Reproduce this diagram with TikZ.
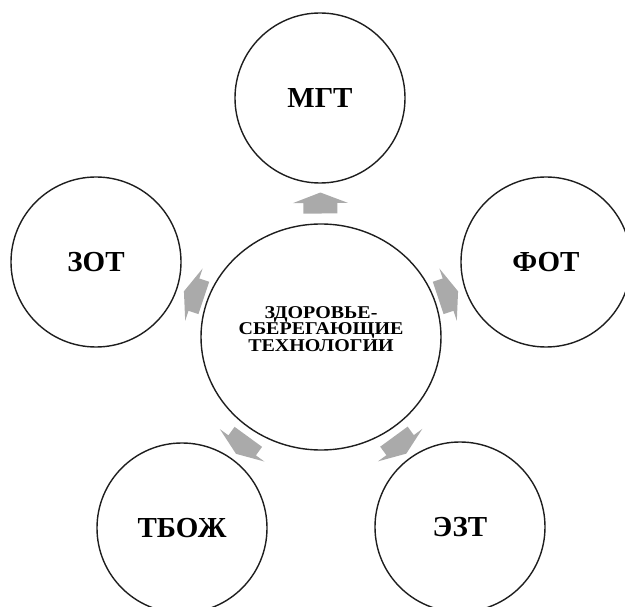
\documentclass[tikz,border=0pt]{standalone}
\usepackage{fontspec}
\setmainfont{Liberation Serif}
\usetikzlibrary{calc,shapes.geometric}
\definecolor{ringline}{HTML}{1E1E1E}
\definecolor{arrowgray}{HTML}{AAAAAA}
% widen a line of the centre caption
\newcommand\stretchline[1]{\scalebox{1.11}[1]{#1}}
\begin{document}
\begin{tikzpicture}[x=1pt,y=-1pt,
  ring/.style={circle, draw=ringline, line width=1.4pt, minimum size=170pt,
    inner sep=0pt, font=\fontsize{29}{30}\selectfont\bfseries},
  hub/.style={ellipse, draw=ringline, line width=1.4pt, minimum width=240pt,
    minimum height=226pt, inner sep=0pt},
  hubtext/.style={align=center, inner sep=0pt,
    font=\fontsize{18}{16.7}\selectfont\bfseries},
  blockarrow/.style={fill=arrowgray}]
\useasboundingbox (0,0) rectangle (625,607);

% central topic
\node[hub] (c) at (321,337) {};
\node[hubtext] (ct) at (321,329)
  {\stretchline{ЗДОРОВЬЕ-}\\\stretchline{СБЕРЕГАЮЩИЕ}\\\stretchline{ТЕХНОЛОГИИ}};

% surrounding technologies
\node[ring] (mgt)  at (320,98)  {МГТ};
\node[ring] (fot)  at (546,262) {ФОТ};
\node[ring] (ezt)  at (460,527) {ЭЗТ};
\node[ring] (tboz) at (182,528) {ТБОЖ};
\node[ring] (zot)  at (96,262)  {ЗОТ};

% short block arrows from the centre towards each circle
\foreach \t in {mgt,fot,ezt,tboz,zot}{
  \pgfmathanglebetweenpoints{\pgfpointanchor{c}{center}}{\pgfpointanchor{\t}{center}}
  \let\ang\pgfmathresult
  \begin{scope}[shift={($(c)!134pt!(\t)$)}, rotate=\ang]
    \fill[blockarrow] (-10.5pt,-17pt) -- (0pt,-17pt) -- (0pt,-27.5pt)
      -- (10.5pt,0pt) -- (0pt,27.5pt) -- (0pt,17pt) -- (-10.5pt,17pt) -- cycle;
  \end{scope}
}
\end{tikzpicture}
\end{document}
